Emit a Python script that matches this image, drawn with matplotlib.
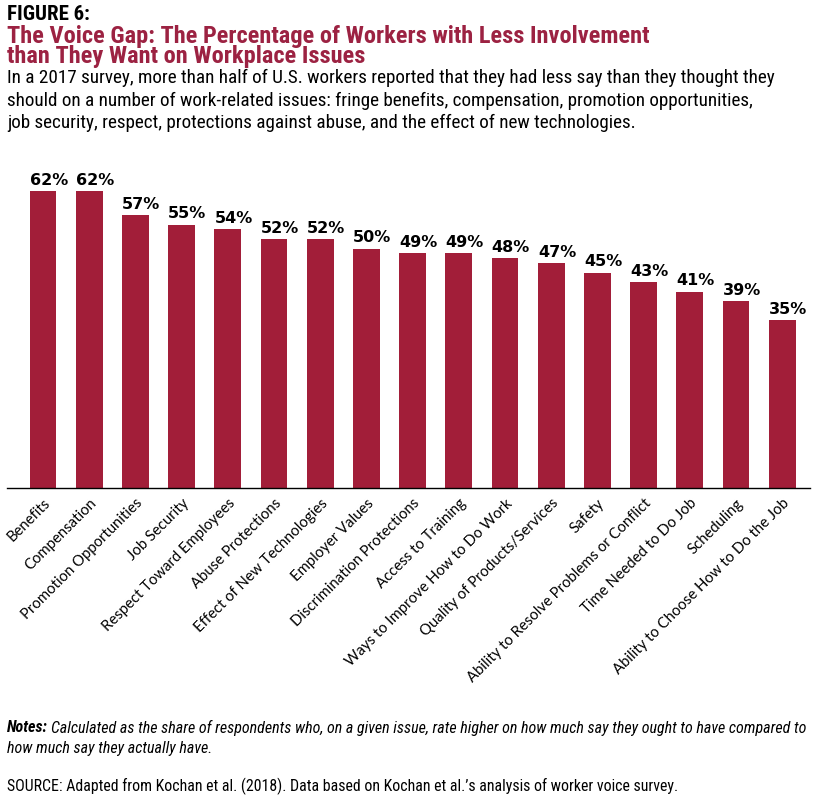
import matplotlib.pyplot as plt
import numpy as np

# ── Data ────────────────────────────────────────────────────────────────────
ISSUES = [
    "Benefits", "Compensation", "Promotion Opportunities", "Job Security",
    "Respect Toward Employees", "Abuse Protections", "Effect of New Technologies",
    "Employer Values", "Discrimination Protections", "Access to Training",
    "Ways to Improve How to Do Work", "Quality of Products/Services", "Safety",
    "Ability to Resolve Problems or Conflict", "Time Needed to Do Job",
    "Scheduling", "Ability to Choose How to Do the Job",
]
PCT = [62, 62, 57, 55, 54, 52, 52, 50, 49, 49, 48, 47, 45, 43, 41, 39, 35]

SUBTITLE = [
    "In a 2017 survey, more than half of U.S. workers reported that they had less say than they thought they",
    "should on a number of work-related issues: fringe benefits, compensation, promotion opportunities,",
    "job security, respect, protections against abuse, and the effect of new technologies.",
]
NOTES = [
    "Calculated as the share of respondents who, on a given issue, rate higher on how much say they ought to have compared to",
    "how much say they actually have.",
]
SOURCE = "SOURCE: Adapted from Kochan et al. (2018). Data based on Kochan et al.\u2019s analysis of worker voice survey."

RED = "#A21E39"
TITLE_RED = "#9C2242"
NARROW = ["Roboto Condensed", "Archivo Narrow", "Liberation Sans Narrow", "Roboto", "DejaVu Sans"]
LABEL_FONT = ["Lato", "DejaVu Sans"]
BAR_W = 0.58

# ── Plot ─────────────────────────────────────────────────────────────────────
W, H = 821, 809
fig = plt.figure(figsize=(W / 100, H / 100), dpi=100)
renderer = fig.canvas.get_renderer()


def px(y):
    return 1 - y / H


def fit(t, right_px, left_px=7):
    """scale font so the text spans left_px..right_px"""
    for _ in range(3):
        w = t.get_window_extent(renderer).width
        t.set_fontsize(t.get_fontsize() * (right_px - left_px) / w)


# axes in pixel coords: x 7..810, y 160..488
ax = fig.add_axes([7 / W, (H - 488) / H, (810 - 7) / W, (488 - 160) / H])
x = np.arange(len(ISSUES))
ax.bar(x, PCT, width=BAR_W, color=RED, zorder=2)
ax.set_xlim(-0.78, len(ISSUES) - 1 + 0.6)
ax.set_ylim(0, 68.5)

# value labels start at the bar's left edge, as in the original
for xi, v in zip(x, PCT):
    ax.text(xi - BAR_W / 2, v + 0.7, f"{v}%", ha="left", va="bottom",
            fontsize=11.5, fontweight="bold", family="DejaVu Sans", color="black")

for s in ["top", "right", "left"]:
    ax.spines[s].set_visible(False)
ax.spines["bottom"].set_linewidth(1.0)
ax.set_yticks([])
ax.set_xticks(x)
labels = ax.set_xticklabels(ISSUES, rotation=45, ha="right", rotation_mode="anchor",
                            fontsize=10, family=LABEL_FONT, color="black")
ax.tick_params(axis="x", length=0, pad=6)

# longest label spans ~180 px horizontally in the reference
w_long = labels[-1].get_window_extent(renderer).width
fs_lab = 10 * (180 / w_long)
for lab in labels:
    lab.set_fontsize(fs_lab)

# ── Titles & notes ───────────────────────────────────────────────────────────
t = fig.text(7 / W, px(14), "FIGURE 6:", fontsize=13, fontweight="bold",
             family=NARROW, va="center", ha="left")
fit(t, 90)
t1 = fig.text(7 / W, px(36), "The Voice Gap: The Percentage of Workers with Less Involvement",
              fontsize=15, fontweight="bold", color=TITLE_RED, family=NARROW, va="center")
fit(t1, 648)
fig.text(7 / W, px(57), "than They Want on Workplace Issues", fontsize=t1.get_fontsize(),
         fontweight="bold", color=TITLE_RED, family=NARROW, va="center")

s1 = fig.text(7 / W, px(78), SUBTITLE[0], fontsize=12, family=NARROW, va="center")
fit(s1, 775)
for i, line in enumerate(SUBTITLE[1:], start=1):
    fig.text(7 / W, px(78 + 22.5 * i), line, fontsize=s1.get_fontsize(),
             family=NARROW, va="center")

# notes: bold italic lead-in followed by italic text
fs = 10.5
n0 = fig.text(7 / W, px(728), "Notes:", fontsize=fs, fontweight="bold",
              style="italic", family=NARROW, va="center")
n1 = fig.text(0, px(728), NOTES[0], fontsize=fs, style="italic", family=NARROW, va="center")
for _ in range(4):
    wn = n0.get_window_extent(renderer).width
    n1.set_x((7 + wn + 3) / W)
    right = n1.get_window_extent(renderer).x1
    fs *= (806 - 7) / (right - 7)
    n0.set_fontsize(fs)
    n1.set_fontsize(fs)
wn = n0.get_window_extent(renderer).width
n1.set_x((7 + wn + 3) / W)
fig.text(7 / W, px(749), NOTES[1], fontsize=fs, style="italic", family=NARROW, va="center")

src = fig.text(7 / W, px(786), SOURCE, fontsize=fs, family=NARROW, va="center")
fit(src, 677)

fig.savefig("out.png", dpi=100)
